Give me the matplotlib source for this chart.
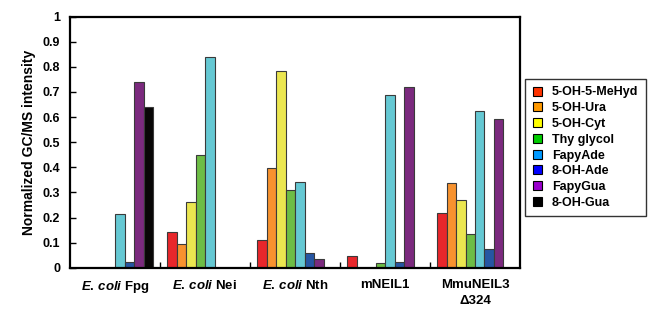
import matplotlib
matplotlib.use("Agg")
import matplotlib.pyplot as plt
import numpy as np
from matplotlib.patches import Patch

plt.rcParams['font.family'] = ['Liberation Sans', 'DejaVu Sans']
plt.rcParams['mathtext.fontset'] = 'custom'
plt.rcParams['mathtext.it'] = 'Liberation Sans:italic:bold'
plt.rcParams['mathtext.rm'] = 'Liberation Sans:bold'

groups = [r"$\mathit{E.}\,\mathit{coli}$ Fpg", r"$\mathit{E.}\,\mathit{coli}$ Nei", r"$\mathit{E.}\,\mathit{coli}$ Nth",
          "mNEIL1", "MmuNEIL3\nΔ324"]
series = ["5-OH-5-MeHyd", "5-OH-Ura", "5-OH-Cyt", "Thy glycol", "FapyAde", "8-OH-Ade", "FapyGua", "8-OH-Gua"]
values = {
    "5-OH-5-MeHyd": [0, 0.142, 0.110, 0.047, 0.217],
    "5-OH-Ura":     [0, 0.094, 0.396, 0, 0.336],
    "5-OH-Cyt":     [0, 0.263, 0.782, 0, 0.268],
    "Thy glycol":   [0, 0.448, 0.310, 0.017, 0.133],
    "FapyAde":      [0.214, 0.838, 0.343, 0.690, 0.623],
    "8-OH-Ade":     [0.023, 0, 0.057, 0.024, 0.073],
    "FapyGua":      [0.740, 0, 0.033, 0.720, 0.593],
    "8-OH-Gua":     [0.640, 0, 0, 0, 0],
}
bar_colors = ["#E8262B", "#F7922F", "#EBE650", "#6DBD45", "#65C8D3", "#2656A3", "#7B2A7E", "#080606"]
legend_colors = ["#FF3300", "#FF9900", "#FFFF00", "#00CC00", "#0099FF", "#0000FF", "#9900CC", "#000000"]
yticks = [0, 0.1, 0.2, 0.3, 0.4, 0.5, 0.6, 0.7, 0.8, 0.9, 1]
ytick_labels = ["0", "0.1", "0.2", "0.3", "0.4", "0.5", "0.6", "0.7", "0.8", "0.9", "1"]

fig = plt.figure(figsize=(6.52, 3.24), dpi=100)
ax = fig.add_axes([70/652, 1-267.7/324, 450/652, 251/324])

x = np.arange(len(groups))
w = 9.5/90
n = len(series)
for i, s in enumerate(series):
    offs = (i - (n-1)/2) * w
    ax.bar(x + offs, values[s], width=w, color=bar_colors[i], edgecolor='#3a3a3a', linewidth=0.8)

ax.set_xlim(-0.5, 4.5)
ax.set_ylim(0, 1)
ax.set_yticks(yticks)
ax.set_yticklabels(ytick_labels, fontsize=9, fontweight='bold')
ax.set_xticks([0.5, 1.5, 2.5, 3.5])
ax.set_xticklabels([])
ax.tick_params(axis='both', direction='in', length=4, width=1)
ax.tick_params(axis='y', pad=7)
for xi, g in zip(x, groups):
    ax.text(xi, -0.045, g, ha='center', va='top', fontsize=9.5, fontweight='bold',
            transform=ax.transData, linespacing=1.4)
for sp in ax.spines.values():
    sp.set_linewidth(1.6)
ax.set_ylabel("Normalized GC/MS intensity", fontsize=10, fontweight='bold', labelpad=5)

handles = [Patch(facecolor=c, edgecolor='black', linewidth=0.8) for c in legend_colors]
leg = fig.legend(handles, series, loc='upper left', bbox_to_anchor=(525/652, 1-79/324),
                 prop={'size': 9, 'weight': 'bold'}, frameon=True, fancybox=False,
                 edgecolor='black', handlelength=0.75, handleheight=0.75, handletextpad=0.8,
                 labelspacing=0.3, borderpad=0.6, borderaxespad=0)
leg.get_frame().set_linewidth(1.0)

fig.savefig("out.png", dpi=100)
